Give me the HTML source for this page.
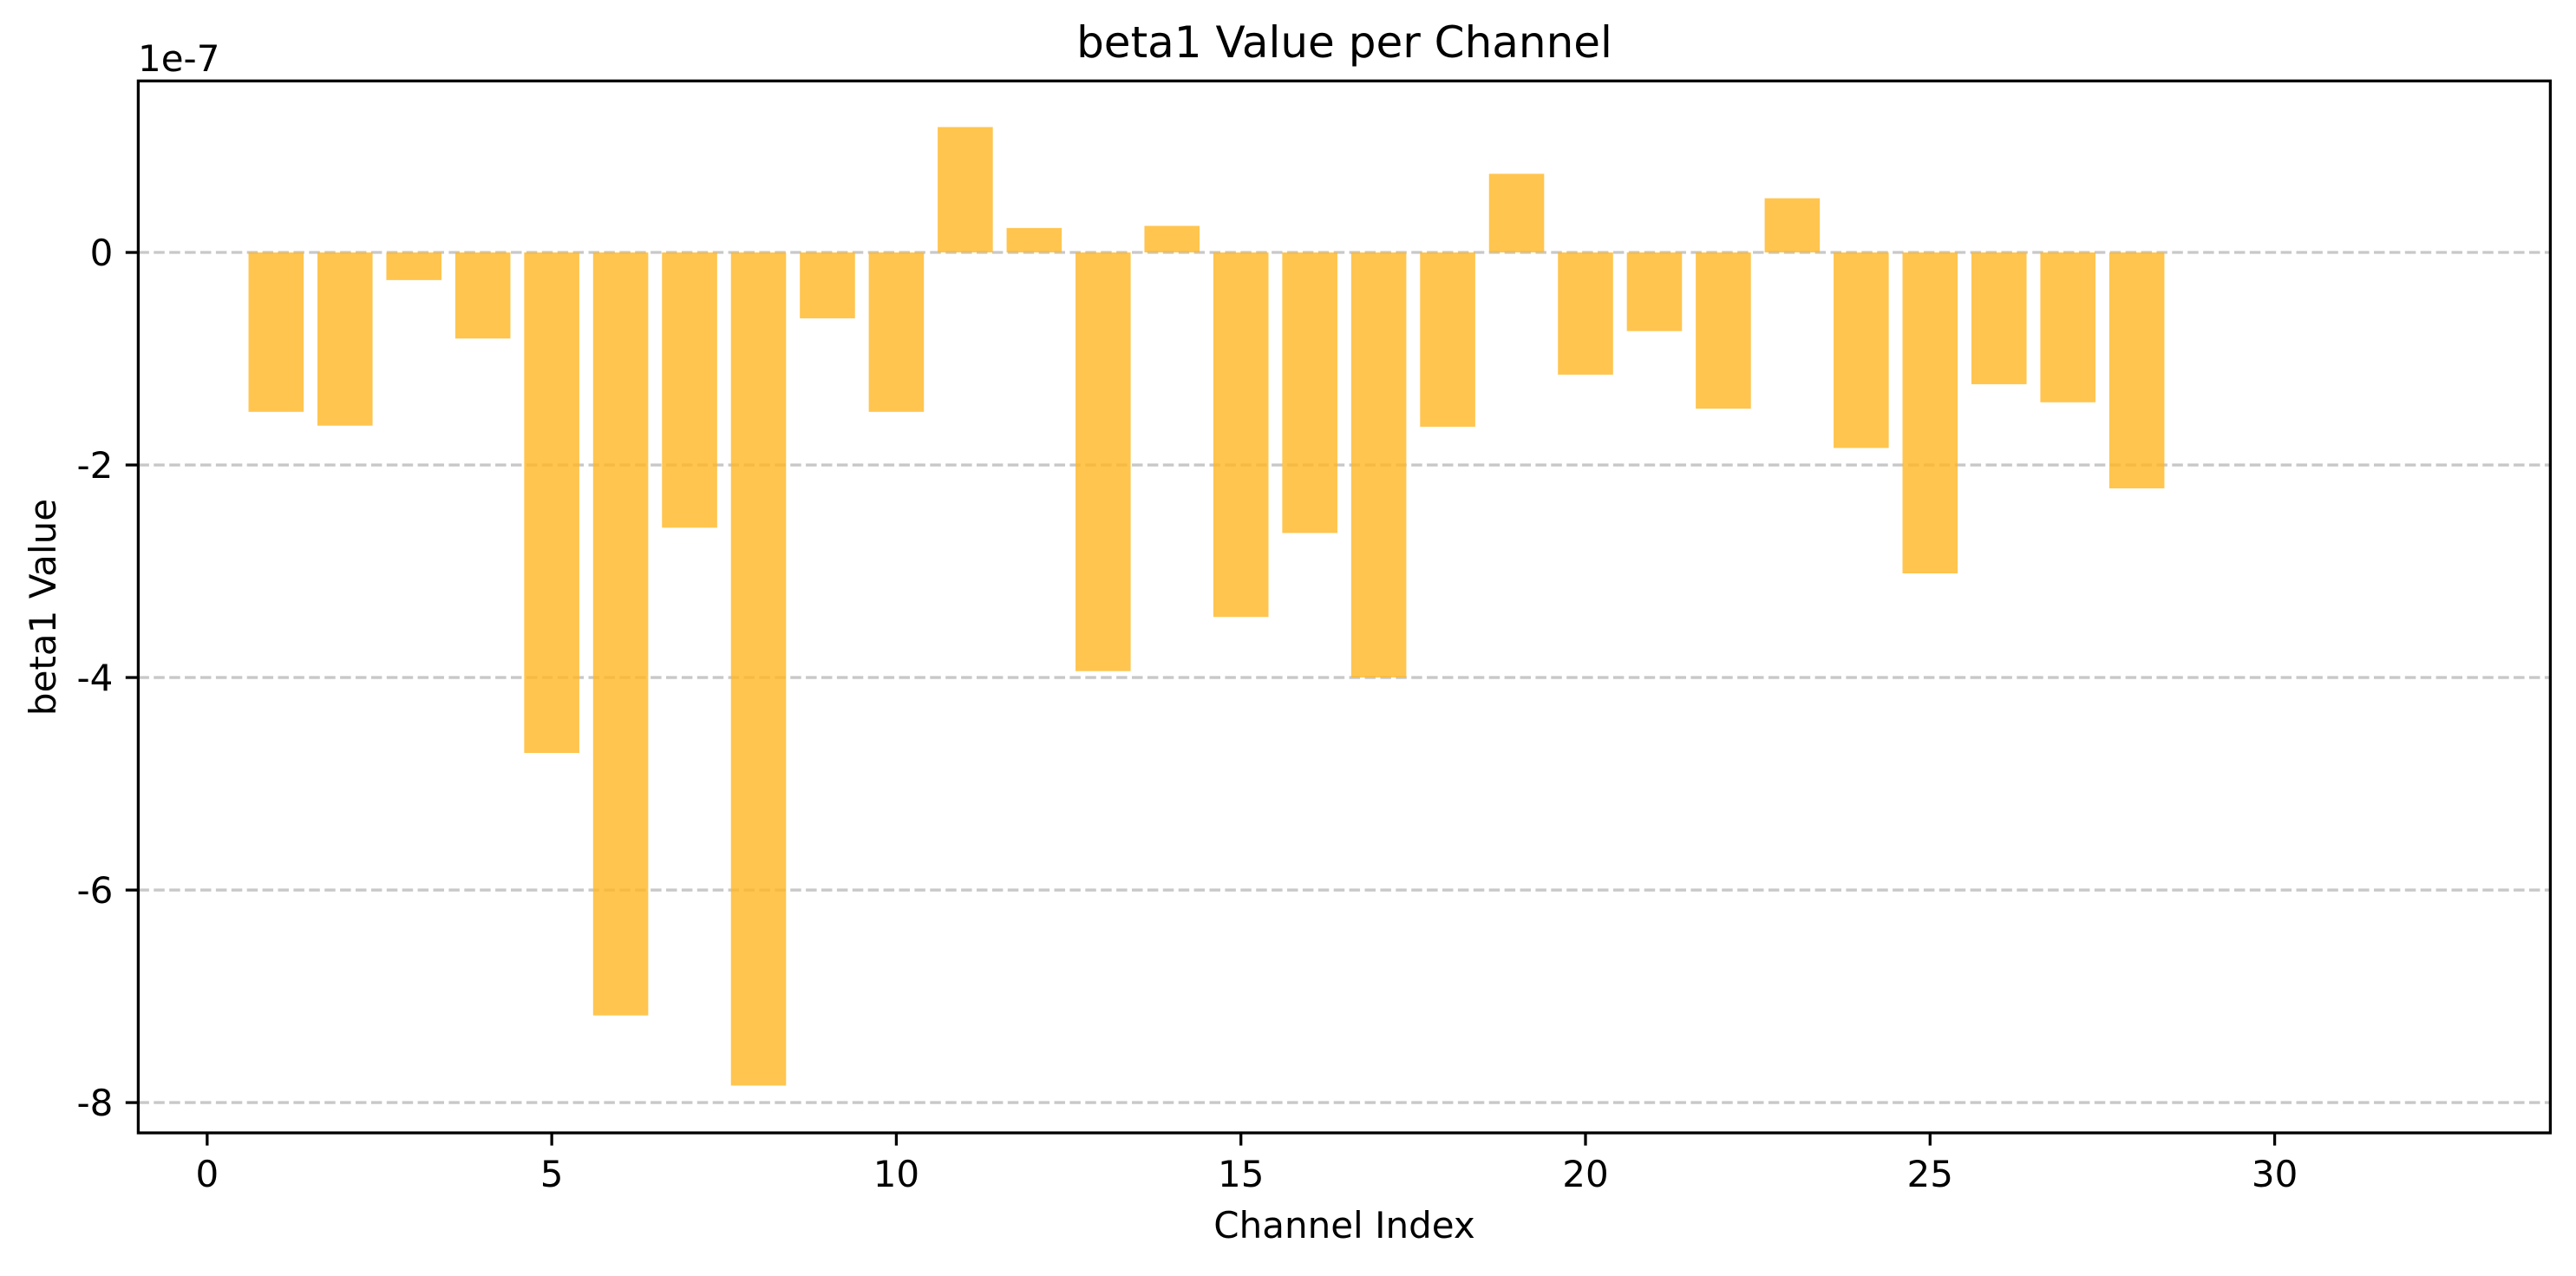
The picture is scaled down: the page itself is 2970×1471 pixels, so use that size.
<!DOCTYPE html>
<html><head><meta charset="utf-8"><style>
html,body{margin:0;padding:0;background:#fff;}
svg text{font-family:"DejaVu Sans","Liberation Sans",sans-serif;fill:#000;}
</style></head><body>
<svg id="chart" width="2970" height="1466" viewBox="0 0 2970 1466" xmlns="http://www.w3.org/2000/svg">
<rect x="0" y="0" width="2970" height="1466" fill="#fff"/>
<g id="grid"></g>
<g id="bars"></g>
<g id="axes"></g>
<text x="1550" y="66" font-size="50" text-anchor="middle">beta1 Value per Channel</text>
<text x="1550" y="1427" font-size="42" text-anchor="middle">Channel Index</text>
<text transform="translate(64,700) rotate(-90)" font-size="42" text-anchor="middle">beta1 Value</text>
<text x="159" y="82" font-size="42">1e-7</text>
</svg>
<script>
const categories = [1,2,3,4,5,6,7,8,9,10,11,12,13,14,15,16,17,18,19,20,21,22,23,24,25,26,27,28];
const values = [-1.50,-1.63,-0.26,-0.81,-4.71,-7.18,-2.59,-7.84,-0.62,-1.50,1.18,0.23,-3.94,0.25,-3.43,-2.64,-4.00,-1.64,0.74,-1.15,-0.74,-1.47,0.51,-1.84,-3.02,-1.24,-1.41,-2.22];
const xTicks = [0,5,10,15,20,25,30];
const yTicks = [0,-2,-4,-6,-8];
const yTickLabels = ["0","-2","-4","-6","-8"];

const L=159.4,R=2940.4,T=93.3,B=1306;
const xMin=-1,xMax=34,yMin=-8.285,yMax=1.614;
const sx=v=>L+(v-xMin)/(xMax-xMin)*(R-L);
const sy=v=>B-(v-yMin)/(yMax-yMin)*(B-T);
const NS="http://www.w3.org/2000/svg";
function mk(tag,attrs,parent){const e=document.createElementNS(NS,tag);for(const k in attrs)e.setAttribute(k,attrs[k]);parent.appendChild(e);return e;}
const grid=document.getElementById('grid'),bars=document.getElementById('bars'),axes=document.getElementById('axes');

yTicks.forEach((t,i)=>{
  const g=mk('line',{x1:L,x2:R,y1:sy(t),y2:sy(t),stroke:'#c8c8c8','stroke-width':3.3,'stroke-dasharray':'12.5,5.4'},grid);
  
  
  const tk=mk('line',{x1:L-14.6,x2:L,y1:sy(t),y2:sy(t),stroke:'#000','stroke-width':3.3},axes);
  
  
  const lb=mk('text',{x:L-29,y:sy(t)+15,'font-size':42,'text-anchor':'end'},axes);
  lb.textContent=yTickLabels[i];
  
  
});
categories.forEach((c,i)=>{
  const v=values[i];
  const y0=sy(Math.max(0,v)),y1=sy(Math.min(0,v));
  const r=mk('rect',{x:sx(c-0.4),y:y0,width:sx(c+0.4)-sx(c-0.4),height:y1-y0,fill:'#ffb623','fill-opacity':0.8},bars);
  
  
});
xTicks.forEach(t=>{
  const tk=mk('line',{x1:sx(t),x2:sx(t),y1:B,y2:B+14.6,stroke:'#000','stroke-width':3.3},axes);
  
  
  const lb=mk('text',{x:sx(t),y:B+62,'font-size':42,'text-anchor':'middle'},axes);
  lb.textContent=String(t);
  
  
});
const frame=mk('rect',{x:L,y:T,width:R-L,height:B-T,fill:'none',stroke:'#000','stroke-width':3.3},axes);


</script>
</body></html>
